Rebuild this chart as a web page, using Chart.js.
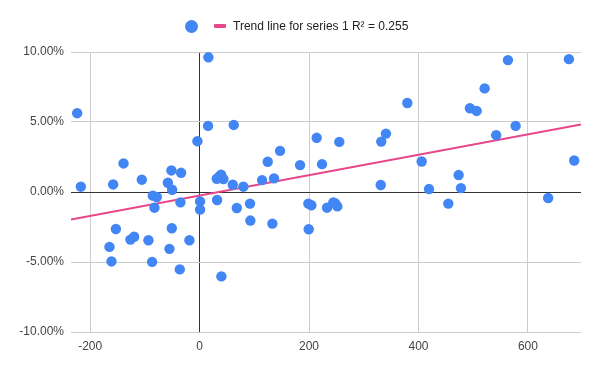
<!DOCTYPE html>
<html>
<head>
<meta charset="utf-8">
<script src="https://cdn.jsdelivr.net/npm/chart.js@4/dist/chart.umd.min.js"></script>
<style>
  html, body { margin: 0; padding: 0; background: #fff; }
  #wrap { position: relative; width: 600px; height: 371px; }
  #legend { position: absolute; top: 17px; left: 185px; height: 18px; display: flex; align-items: center;
            font-family: "Liberation Sans", Arial, sans-serif; font-size: 12px; color: #222; white-space: nowrap; }
  #legend .dot { width: 13px; height: 13px; border-radius: 50%; background: #4285F4; display: inline-block; margin-right: 16px; }
  #legend .ln { width: 12px; height: 4px; background: #E7468A; display: inline-block; margin-right: 7px; border-radius: 1px; }
  canvas { position: absolute; left: 0; top: 0; }
</style>
</head>
<body>
<div id="wrap">
  <canvas id="c" width="600" height="371"></canvas>
  <div id="legend"><span class="dot"></span><span class="ln"></span><span>Trend line for series 1 R² = 0.255</span></div>
</div>
<script>
// Scatter series: x values and y values (fractions)
const xValues = [-223.7, -217, -158, -139, -105.6, -58, -51.5, -33.8, -50.2, -85.5,
  -78.2, -82.5, -35, -4, 16.1, 15.5, 62.4, 0.9, 0.9, 32,
  68, 36.2, 39.3, 43.5, 31.4, 60.6, 80, -153, -164.7, -161,
  -126.4, -119.6, -93.5, -86.8, -50.8, -55.1, -18.6, -36.2, 39.8, 92.2,
  92.8, 133, 198.7, 204.2, 199.4, 232.9, 244.4, 248, 251.7, 214,
  255.3, 332, 340.6, 147, 124.5, 183.6, 223.7, 114.2, 136, 331,
  379.6, 563.5, 674.9, 520.9, 494, 506.3, 542, 577.5, 405.8, 684.6,
  473.4, 419.2, 477.6, 454.5, 637];
const yValues = [0.0563, 0.0038, 0.0054, 0.0204, 0.0088, 0.0066, 0.0154, 0.0137, 0.0016, -0.0026,
  -0.0036, -0.0112, -0.0074, 0.0363, 0.0962, 0.0472, 0.0479, -0.0067, -0.0126, -0.0057,
  -0.0114, 0.0111, 0.0123, 0.0093, 0.0095, 0.0052, 0.0038, -0.0264, -0.0392, -0.0496,
  -0.0340, -0.0320, -0.0345, -0.0499, -0.0259, -0.0406, -0.0345, -0.0553, -0.0603, -0.0083,
  -0.0204, -0.0226, -0.0083, -0.0095, -0.0266, -0.0112, -0.0074, -0.0081, -0.0103, 0.0387,
  0.0358, 0.0360, 0.0417, 0.0294, 0.0216, 0.0192, 0.0199, 0.0085, 0.0097, 0.0050,
  0.0636, 0.0942, 0.0949, 0.0740, 0.0598, 0.0579, 0.0406, 0.0472, 0.0218, 0.0225,
  0.0121, 0.0021, 0.0028, -0.0083, -0.0043];
// Trend line endpoints
const trendX = [-235, 697];
const trendY = [-0.0197, 0.0482];
// Axis ticks
const xTicks = [-200, 0, 200, 400, 600];
const yTicks = [-0.10, -0.05, 0, 0.05, 0.10];

const scatterData = xValues.map((x, i) => ({ x: x, y: yValues[i] }));
const trendData = trendX.map((x, i) => ({ x: x, y: trendY[i] }));

const font = { family: '"Liberation Sans", Arial, sans-serif', size: 12 };

new Chart(document.getElementById('c'), {
  type: 'scatter',
  data: {
    datasets: [
      { label: '', data: scatterData, backgroundColor: '#4285F4', borderWidth: 0,
        pointRadius: 5.2, pointHoverRadius: 5.2, order: 0 },
      { type: 'line', label: 'Trend line for series 1 R² = 0.255', data: trendData,
        borderColor: '#E7468A', borderWidth: 2, pointRadius: 0, fill: false, order: 1 }
    ]
  },
  options: {
    responsive: false,
    animation: false,
    layout: { padding: { top: 52, right: 19, left: 0, bottom: 0 } },
    plugins: { legend: { display: false }, tooltip: { enabled: false } },
    scales: {
      x: {
        type: 'linear', min: trendX[0], max: trendX[1],
        afterBuildTicks: s => { s.ticks = xTicks.map(v => ({ value: v })); },
        afterFit: s => { s.height = 39; },
        border: { display: false },
        grid: { color: ctx => ctx.tick && ctx.tick.value === 0 ? '#333' : '#ccc', drawTicks: false, lineWidth: 1 },
        ticks: { font: font, color: '#444', padding: 7, maxRotation: 0 }
      },
      y: {
        min: yTicks[0], max: yTicks[yTicks.length - 1],
        afterBuildTicks: s => { s.ticks = yTicks.map(v => ({ value: v })); },
        afterFit: s => { s.width = 71; },
        border: { display: false },
        grid: { color: ctx => ctx.tick && Math.abs(ctx.tick.value) < 1e-9 ? '#333' : '#ccc', drawTicks: false, lineWidth: 1 },
        ticks: { font: font, color: '#444', padding: 7,
          callback: v => (v * 100).toFixed(2) + '%' }
      }
    }
  }
});
</script>
</body>
</html>
